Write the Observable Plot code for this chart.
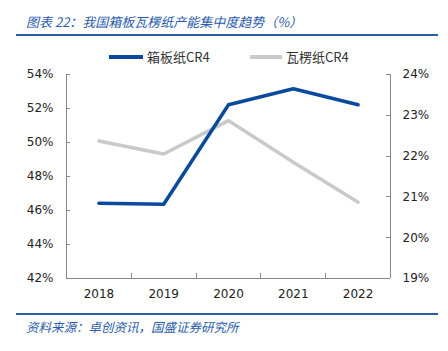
<!DOCTYPE html>
<html>
<head>
<meta charset="utf-8">
<script src="https://cdn.jsdelivr.net/npm/d3@7"></script>
<script src="https://cdn.jsdelivr.net/npm/@observablehq/plot@0.6"></script>
<style>
  html, body { margin: 0; padding: 0; background: #fff; }
  #wrap { position: relative; width: 448px; height: 351px; overflow: hidden; font-family: "Noto Sans CJK SC", sans-serif; }
  .rule { position: absolute; left: 16px; width: 422px; height: 2px; background: #2a5caa; }
  #title { position: absolute; left: 26px; top: 12px; font-size: 13px; font-style: italic; color: #2a5caa; white-space: nowrap; }
  #source { position: absolute; left: 26px; top: 317px; font-size: 12.5px; font-style: italic; color: #2a5caa; white-space: nowrap; }
  .leg { position: absolute; top: 47px; font-size: 13px; color: #333; white-space: nowrap; display: flex; align-items: center; }
  .sw { display: inline-block; height: 4px; margin-right: 4px; }
  #chart { position: absolute; left: 0; top: 0; }
</style>
</head>
<body>
<div id="wrap">
  <div id="title">图表 22：我国箱板瓦楞纸产能集中度趋势（%）</div>
  <div class="rule" style="top:34px"></div>
  <div class="leg" style="left:109px"><span class="sw" style="width:34px;background:#0a4a9c"></span>箱板纸CR4</div>
  <div class="leg" style="left:250px"><span class="sw" style="width:32px;background:#c9c9c9"></span>瓦楞纸CR4</div>
  <div id="chart"></div>
  <div class="rule" style="top:313px"></div>
  <div id="source">资料来源：卓创资讯，国盛证券研究所</div>
</div>
<script>
const years = [2018, 2019, 2020, 2021, 2022];
const boxboardCR4 = [46.43, 46.37, 52.22, 53.16, 52.22];   // left axis (%)
const corrugatedCR4 = [22.37, 22.05, 22.87, 21.85, 20.87]; // right axis (%)
const leftTicks = [42, 44, 46, 48, 50, 52, 54];
const rightTicks = [19, 20, 21, 22, 23, 24];

const L0 = 42, L1 = 54, R0 = 19, R1 = 24;
const toLeft = v => L0 + (v - R0) * (L1 - L0) / (R1 - R0);
const fromLeft = v => R0 + (v - L0) * (R1 - R0) / (L1 - L0);

const boxData = years.map((y, i) => ({year: y, v: boxboardCR4[i]}));
const corData = years.map((y, i) => ({year: y, v: toLeft(corrugatedCR4[i])}));
const bounds = years.slice(0, -1).map(y => y + 0.5);

const axisColor = "#888";
const plot = Plot.plot({
  width: 448,
  height: 351,
  marginTop: 74,
  marginBottom: 73,
  marginLeft: 66,
  marginRight: 58,
  style: {fontFamily: "DejaVu Sans, sans-serif", fontSize: "12px", color: "#222", background: "transparent"},
  x: {type: "linear", domain: [2017.5, 2022.5], axis: null},
  y: {type: "linear", domain: [L0, L1], axis: null},
  marks: [
    Plot.axisY({anchor: "left", ticks: leftTicks, tickSize: 0, tickPadding: 13, tickFormat: d => d + "%", label: null, fill: "#222"}),
    Plot.axisY({anchor: "right", ticks: rightTicks.map(toLeft), tickSize: 0, tickPadding: 12, tickFormat: d => Math.round(fromLeft(d)) + "%", label: null, fill: "#222"}),
    Plot.axisX({ticks: years, tickSize: 0, tickPadding: 11, tickFormat: d => String(d), label: null, fill: "#222"}),
    Plot.ruleX([2017.5, 2022.5], {stroke: axisColor, strokeWidth: 1}),
    Plot.ruleY([L0], {stroke: axisColor, strokeWidth: 1}),
    Plot.line(corData, {x: "year", y: "v", stroke: "#c9c9c9", strokeWidth: 3.5}),
    Plot.line(boxData, {x: "year", y: "v", stroke: "#0a4a9c", strokeWidth: 3.5})
  ]
});
document.getElementById("chart").appendChild(plot);

// inward tick marks placed through the plot's scales
const sx = plot.scale("x"), sy = plot.scale("y");
const svg = d3.select(plot);
const g = svg.append("g").attr("stroke", axisColor).attr("stroke-width", 1);
leftTicks.forEach(t => {
  const y = Math.round(sy.apply(t)) + 0.5;
  const x = sx.apply(2017.5);
  g.append("line").attr("x1", x).attr("x2", x + 4).attr("y1", y).attr("y2", y);
});
rightTicks.forEach(t => {
  const y = Math.round(sy.apply(toLeft(t))) + 0.5;
  const x = sx.apply(2022.5);
  g.append("line").attr("x1", x - 4).attr("x2", x).attr("y1", y).attr("y2", y);
});
bounds.forEach(b => {
  const x = Math.round(sx.apply(b)) + 0.5;
  const y = sy.apply(L0);
  g.append("line").attr("x1", x).attr("x2", x).attr("y1", y - 5).attr("y2", y);
});
</script>
</body>
</html>
